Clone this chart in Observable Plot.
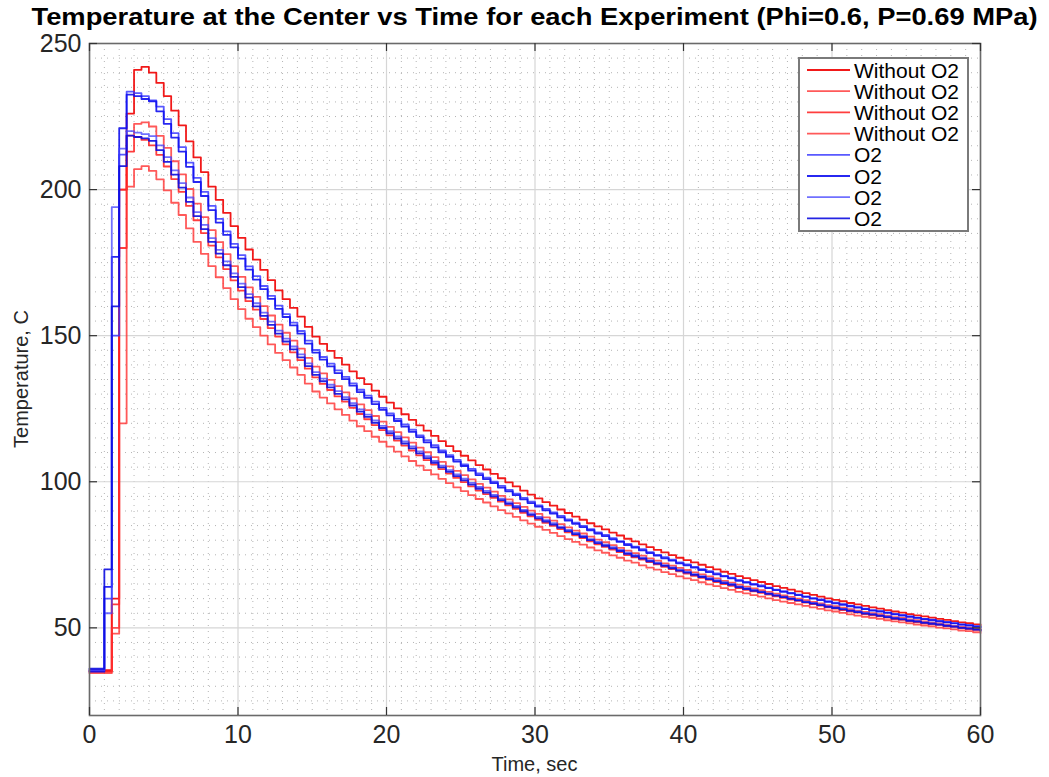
<!DOCTYPE html>
<html><head><meta charset="utf-8">
<script src="https://cdn.jsdelivr.net/npm/d3@7"></script>
<script src="https://cdn.jsdelivr.net/npm/@observablehq/plot@0.6"></script>
<style>
html,body{margin:0;padding:0;background:#fff;}
#chart{width:1049px;height:777px;overflow:hidden;}
</style></head><body><div id="chart"></div>
<script>
// ---- data ----
const time = [0,0.5,1,1.5,2,2.5,3,3.5,4,4.5,5,5.5,6,6.5,7,7.5,8,8.5,9,9.5,10,10.5,11,11.5,12,12.5,13,13.5,14,14.5,15,15.5,16,16.5,17,17.5,18,18.5,19,19.5,20,20.5,21,21.5,22,22.5,23,23.5,24,24.5,25,25.5,26,26.5,27,27.5,28,28.5,29,29.5,30,30.5,31,31.5,32,32.5,33,33.5,34,34.5,35,35.5,36,36.5,37,37.5,38,38.5,39,39.5,40,40.5,41,41.5,42,42.5,43,43.5,44,44.5,45,45.5,46,46.5,47,47.5,48,48.5,49,49.5,50,50.5,51,51.5,52,52.5,53,53.5,54,54.5,55,55.5,56,56.5,57,57.5,58,58.5,59,59.5,60];

const noO2_1 = [35.5,35.5,35.5,60,200,226,241,242,
240,236.5,232,227,222,216.5,211,206,201,196.5,
192,187.5,183.5,179.5,176,172.5,169,165.5,162.5,159.5,
156.5,153,149.7,147.2,144.8,142.4,140.1,137.8,135.5,133.4,
131.2,129.1,127.1,125.1,123.1,121.2,119.3,117.5,115.7,113.9,
112.2,110.5,108.9,107.3,105.7,104.2,102.7,101.2,99.8,98.4,
97.0,95.6,94.3,93.0,91.8,90.5,89.3,88.1,87.0,85.8,
84.7,83.7,82.6,81.6,80.5,79.6,78.6,77.6,76.7,75.8,
74.9,74.0,73.2,72.4,71.6,70.8,70.0,69.2,68.5,67.7,
67.0,66.3,65.7,65.0,64.3,63.7,63.1,62.5,61.9,61.3,
60.7,60.1,59.6,59.1,58.5,58.0,57.5,57.0,56.6,56.1,
55.6,55.2,54.7,54.3,53.9,53.5,53.1,52.7,52.3,51.9,
51.6,51.2,50.8];

const noO2_2 = [35,35,35,48,200,218.5,222.5,223,
221.6,218.4,214.3,209.7,205.2,200.2,195.2,190.6,186.1,182.0,
177.9,173.8,170.1,166.5,163.3,160.1,156.9,153.8,151.0,148.3,
145.6,142.4,139.4,137.1,134.9,132.7,130.6,128.5,126.5,124.5,
122.5,120.6,118.8,117.0,115.2,113.4,111.7,110.1,108.4,106.8,
105.3,103.7,102.3,100.8,99.3,98.0,96.6,95.2,94.0,92.7,
91.4,90.1,89.0,87.8,86.7,85.5,84.4,83.3,82.3,81.2,
80.2,79.3,78.3,77.4,76.4,75.6,74.7,73.8,73.0,72.1,
71.3,70.5,69.8,69.0,68.3,67.6,66.9,66.1,65.5,64.8,
64.1,63.5,62.9,62.3,61.7,61.1,60.6,60.0,59.5,58.9,
58.4,57.8,57.4,56.9,56.4,55.9,55.5,55.0,54.7,54.2,
53.7,53.4,52.9,52.6,52.2,51.8,51.5,51.1,50.7,50.4,
50.1,49.7,49.4];

const noO2_3 = [35,35,35,58,180,213,218,217,
215.1,211.9,207.9,203.6,199.2,194.4,189.5,185.1,180.8,176.8,
172.8,168.9,165.4,161.8,158.9,155.7,152.6,149.7,147.0,144.3,
141.6,138.7,135.7,133.5,131.4,129.2,127.4,125.3,123.2,121.4,
119.4,117.7,115.9,114.1,112.4,110.7,109.0,107.4,105.9,104.3,
102.8,101.3,99.9,98.4,97.0,95.8,94.5,93.2,91.9,90.7,
89.4,88.2,87.0,85.9,84.9,83.8,82.7,81.7,80.7,79.6,
78.6,77.7,76.8,75.9,74.9,74.1,73.4,72.5,71.7,70.9,
70.1,69.3,68.6,67.8,67.1,66.4,65.7,65.0,64.4,63.6,
63.0,62.5,62.0,61.4,60.8,60.3,59.7,59.2,58.6,58.1,
57.6,57.0,56.6,56.1,55.6,55.2,54.7,54.3,53.9,53.5,
53.0,52.7,52.2,51.9,51.5,51.2,51.0,50.6,50.3,49.9,
49.6,49.3,48.9];

const noO2_4 = [34.5,34.5,34.5,50,120,201,207,208,
206.4,203.5,199.7,195.5,191.3,186.7,182.1,178.0,173.8,170.0,
166.3,162.5,159.1,155.8,152.9,150.0,147.0,144.1,141.6,139.1,
136.6,133.6,130.9,128.8,126.8,124.8,122.9,120.9,119.0,117.3,
115.4,113.7,112.0,110.3,108.7,107.1,105.5,104.0,102.5,101.0,
99.5,98.1,96.8,95.4,94.1,92.9,91.6,90.3,89.2,88.0,
86.8,85.7,84.6,83.5,82.5,81.4,80.4,79.4,78.5,77.5,
76.5,75.7,74.8,74.0,73.0,72.3,71.4,70.6,69.9,69.1,
68.4,67.6,66.9,66.3,65.6,64.9,64.3,63.6,63.0,62.3,
61.8,61.2,60.7,60.1,59.5,59.0,58.5,58.0,57.5,57.0,
56.5,56.0,55.6,55.1,54.6,54.2,53.8,53.4,53.1,52.6,
52.2,51.9,51.5,51.1,50.8,50.5,50.1,49.8,49.5,49.1,
48.9,48.5,48.2];

const o2_1 = [35.5,35.5,60,150,212,233.5,233,232,
230.5,228.4,224.1,219.3,214.5,209.2,204.0,199.2,194.4,190.0,
185.7,181.4,177.6,173.7,170.4,167.0,163.6,160.3,157.4,154.5,
151.6,148.3,145.1,142.7,140.4,138.1,135.9,133.7,131.5,129.5,
127.4,125.3,123.4,121.5,119.6,117.8,115.9,114.2,112.5,110.7,
109.1,107.5,105.9,104.4,102.9,101.4,100.0,98.6,97.2,95.9,
94.5,93.2,91.9,90.7,89.5,88.3,87.1,86.0,84.9,83.8,
82.7,81.8,80.7,79.7,78.7,77.8,76.9,75.9,75.0,74.2,
73.3,72.4,71.7,70.9,70.1,69.4,68.6,67.8,67.2,66.4,
65.7,65.0,64.5,63.8,63.1,62.6,62.0,61.4,60.8,60.2,
59.7,59.1,58.6,58.1,57.6,57.1,56.6,56.1,55.7,55.3,
54.8,54.4,53.9,53.5,53.1,52.8,52.4,52.0,51.6,51.2,
50.9,50.6,50.2];

const o2_2 = [35,35,64,177,221,232.5,232,231,
230.2,226.8,222.5,217.8,213.0,207.8,202.6,197.8,193.0,188.7,
184.5,180.2,176.4,172.6,169.2,165.9,162.6,159.2,156.4,153.5,
150.7,147.3,144.2,141.8,139.5,137.2,135.1,132.9,130.7,128.7,
126.6,124.6,122.7,120.8,118.9,117.1,115.3,113.5,111.8,110.1,
108.5,106.9,105.4,103.8,102.3,100.9,99.5,98.0,96.7,95.4,
94.0,92.7,91.5,90.2,89.1,87.8,86.7,85.6,84.5,83.4,
82.3,81.4,80.3,79.4,78.3,77.5,76.5,75.6,74.7,73.8,
73.0,72.1,71.4,70.6,69.8,69.1,68.3,67.6,66.9,66.1,
65.5,64.8,64.2,63.6,62.9,62.3,61.8,61.2,60.6,60.0,
59.5,58.9,58.4,57.9,57.4,56.9,56.4,55.9,55.6,55.1,
54.6,54.2,53.8,53.4,53.0,52.6,52.2,51.9,51.5,51.1,
50.8,50.4,50.0];

const o2_3 = [35.5,35.5,55,194,214,220,219.5,219,
218.3,215.1,211.1,206.6,202.2,197.3,192.3,187.9,183.4,179.4,
175.4,171.3,167.8,164.2,161.1,157.9,154.8,151.7,149.0,146.3,
143.6,140.5,137.5,135.3,133.2,131.0,129.0,126.9,124.8,123.0,
121.0,119.1,117.3,115.5,113.8,112.1,110.4,108.8,107.1,105.5,
104.0,102.5,101.1,99.6,98.2,96.9,95.5,94.2,92.9,91.7,
90.4,89.2,88.0,86.9,85.8,84.6,83.5,82.5,81.5,80.4,
79.4,78.5,77.6,76.7,75.7,74.9,74.0,73.1,72.3,71.5,
70.7,69.9,69.2,68.4,67.7,67.0,66.3,65.6,65.0,64.2,
63.6,63.0,62.4,61.8,61.2,60.7,60.1,59.6,59.0,58.5,
58.0,57.4,57.0,56.5,56.0,55.6,55.1,54.7,54.3,53.9,
53.4,53.1,52.6,52.3,51.9,51.5,51.2,50.8,50.5,50.1,
49.8,49.5,49.1];

const o2_4 = [36,36,70,160,208,218.5,218,217.5,
216.7,213.5,209.5,205.1,200.7,195.8,190.9,186.5,182.1,178.1,
174.1,170.1,166.6,163.0,160.0,156.8,153.7,150.7,148.0,145.3,
142.6,139.6,136.6,134.4,132.3,130.1,128.2,126.1,124.0,122.2,
120.2,118.4,116.6,114.8,113.1,111.4,109.7,108.1,106.5,104.9,
103.4,101.9,100.5,99.0,97.6,96.3,95.0,93.7,92.4,91.2,
89.9,88.7,87.5,86.4,85.3,84.2,83.1,82.1,81.1,80.0,
79.0,78.1,77.2,76.3,75.3,74.5,73.7,72.8,72.0,71.2,
70.4,69.6,68.9,68.1,67.4,66.7,66.0,65.3,64.7,63.9,
63.3,62.7,62.2,61.6,61.0,60.5,59.9,59.4,58.8,58.3,
57.8,57.2,56.8,56.3,55.8,55.4,54.9,54.5,54.1,53.7,
53.2,52.9,52.4,52.1,51.7,51.4,51.1,50.7,50.4,50.0,
49.7,49.4,49.0];

const seriesLabels = ["Without O2","Without O2","Without O2","Without O2","O2","O2","O2","O2"];
const xTicks = [0,10,20,30,40,50,60];
const yTicks = [50,100,150,200,250];
const titleText = "Temperature at the Center vs Time for each Experiment (Phi=0.6, P=0.69 MPa)";
const xLabelText = "Time, sec";
const yLabelText = "Temperature, C";

// ---- styling ----
const seriesValues = [noO2_1, noO2_2, noO2_3, noO2_4, o2_1, o2_2, o2_3, o2_4];
const seriesColors = ["#f00000","#ff3030","#ff1c1c","#ff3030","#3030ff","#1010f0","#4040ff","#0c0ce0"];
const seriesOpacity = [0.9,0.8,0.85,0.8,0.8,0.9,0.75,0.9];

const W = 1049, H = 777;
const mL = 89, mR = 69, mT = 43, mB = 62;
const fw = W - mL - mR, fh = H - mT - mB;
const minorX = d3.range(0, 61, 1).filter(d => d % 10 !== 0);
const minorY = d3.range(20, 251, 5).filter(d => d % 50 !== 0);
const FONT = "'Liberation Sans', Arial, Helvetica, sans-serif";

const lineMarks = seriesValues.map((vals, k) =>
  Plot.line(vals.map((v, i) => ({t: time[i], T: v})), {
    x: "t", y: "T", curve: "step-after",
    stroke: seriesColors[k], strokeOpacity: seriesOpacity[k], strokeWidth: 1.8
  })
);

const plot = Plot.plot({
  width: W, height: H,
  marginLeft: mL, marginRight: mR, marginTop: mT, marginBottom: mB,
  x: {domain: [0, 60]},
  y: {domain: [20, 250]},
  style: {fontFamily: FONT, background: "#fff", color: "#262626"},
  marks: [
    Plot.ruleX(minorX, {stroke: "#b4b4b4", strokeDasharray: "1,5", strokeWidth: 1}),
    Plot.ruleY(minorY, {stroke: "#b4b4b4", strokeDasharray: "1,5", strokeWidth: 1}),
    Plot.ruleX(xTicks, {stroke: "#d6d6d6", strokeWidth: 1.2}),
    Plot.ruleY(yTicks, {stroke: "#d6d6d6", strokeWidth: 1.2}),
    ...lineMarks,
    Plot.frame({stroke: "#6a6a6a", strokeWidth: 1.6}),
    Plot.tickX(xTicks, {x: d => d, insetTop: fh - 8, stroke: "#333", strokeWidth: 1.2}),
    Plot.tickX(xTicks, {x: d => d, insetBottom: fh - 8, stroke: "#333", strokeWidth: 1.2}),
    Plot.tickY(yTicks, {y: d => d, insetRight: fw - 8, stroke: "#333", strokeWidth: 1.2}),
    Plot.tickY(yTicks, {y: d => d, insetLeft: fw - 8, stroke: "#333", strokeWidth: 1.2}),
    Plot.axisX(xTicks, {tickSize: 0, tickPadding: 10, fontSize: 25, label: null, fill: "#262626"}),
    Plot.axisY(yTicks, {tickSize: 0, tickPadding: 8, fontSize: 25, label: null, fill: "#262626"})
  ]
});

document.getElementById("chart").appendChild(plot);
const svg = d3.select(plot);

// title
svg.append("text")
  .attr("x", mL + fw / 2).attr("y", 25)
  .attr("text-anchor", "middle")
  .attr("font-family", FONT).attr("font-weight", "bold").attr("font-size", 23)
  .attr("fill", "#000")
  .attr("textLength", 1006).attr("lengthAdjust", "spacingAndGlyphs")
  .text(titleText);

// axis labels
svg.append("text")
  .attr("x", mL + fw / 2).attr("y", 771)
  .attr("text-anchor", "middle")
  .attr("font-family", FONT).attr("font-size", 20).attr("fill", "#262626")
  .text(xLabelText);
svg.append("text")
  .attr("transform", `translate(28,${mT + fh / 2}) rotate(-90)`)
  .attr("text-anchor", "middle")
  .attr("font-family", FONT).attr("font-size", 20).attr("fill", "#262626")
  .text(yLabelText);

// legend
const lg = svg.append("g");
const lx = 799, ly = 58, lw = 169, lh = 173, rowH = 21.2;
lg.append("rect").attr("x", lx).attr("y", ly).attr("width", lw).attr("height", lh)
  .attr("fill", "#fff").attr("stroke", "#7a7a7a").attr("stroke-width", 2);
seriesLabels.forEach((lab, k) => {
  const yy = ly + 12 + k * rowH;
  lg.append("line").attr("x1", lx + 8).attr("x2", lx + 51).attr("y1", yy).attr("y2", yy)
    .attr("stroke", seriesColors[k]).attr("stroke-opacity", seriesOpacity[k]).attr("stroke-width", 1.8);
  lg.append("text").attr("x", lx + 55).attr("y", yy).attr("dy", "0.36em")
    .attr("text-anchor", "start")
    .attr("font-family", FONT).attr("font-size", 21).attr("fill", "#000")
    .text(lab);
});
</script>
</body></html>
